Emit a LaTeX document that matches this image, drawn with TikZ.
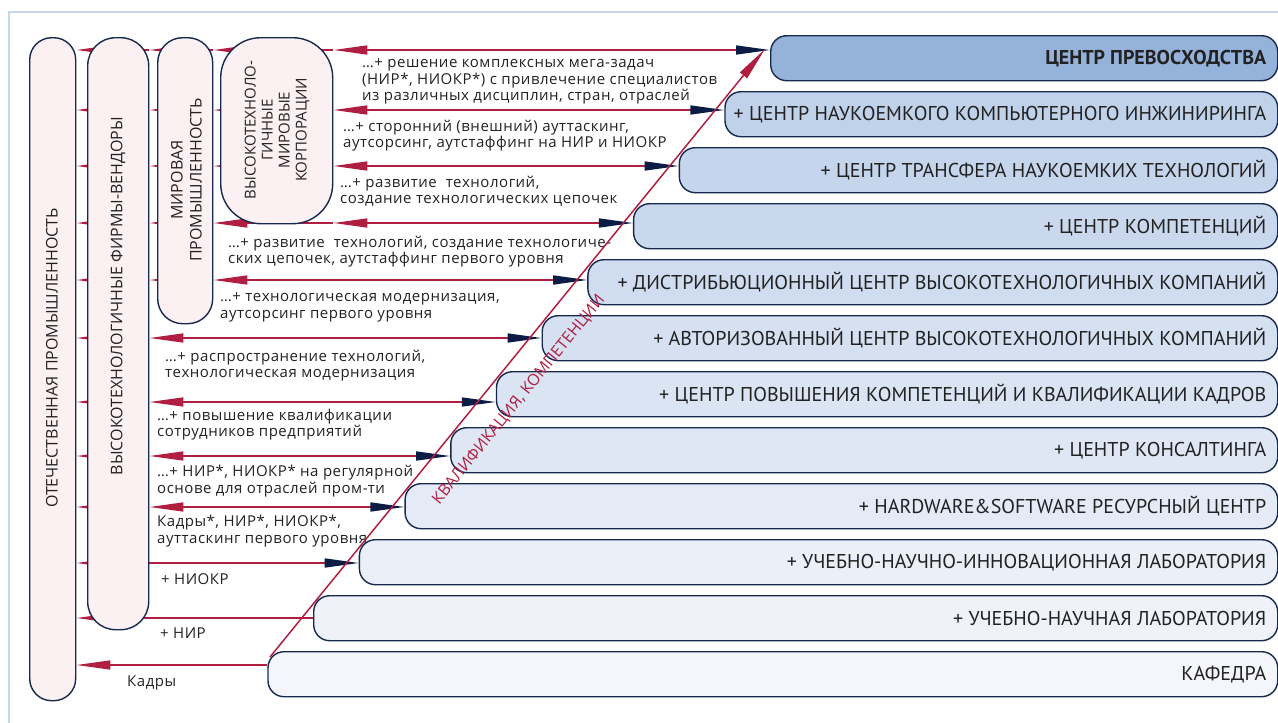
\documentclass[tikz,border=0pt]{standalone}
\usepackage{fontspec}
\setmainfont{Open Sans}
\newfontfamily\boxfont{PT Sans}
\newfontfamily\labfont[LetterSpace=3.5]{Open Sans}
\usetikzlibrary{arrows.meta,calc}
\pgfdeclarelayer{bg}
\pgfsetlayers{bg,main}
\definecolor{crim}{HTML}{B01E42}
\definecolor{navy}{HTML}{17294F}
\definecolor{tipnavy}{HTML}{0B1D45}
\definecolor{pinkfill}{HTML}{FBF0F2}
\definecolor{topfill}{HTML}{95B2DB}
\definecolor{rhi}{HTML}{C0D1EA}
\definecolor{rlo}{HTML}{F4F6FB}
\definecolor{framec}{HTML}{C9D5E8}
\definecolor{txt}{HTML}{222222}
\tikzset{
  Rd/.tip={Triangle[length=34pt,width=9pt,color=crim]},
  Nv/.tip={Triangle[length=34pt,width=9pt,color=tipnavy]},
}
\begin{document}
\begin{tikzpicture}[x=1pt,y=-1pt,
  lbox/.style={draw=navy, line width=1.4pt, fill=pinkfill, inner sep=0pt, anchor=north west},
  rbox/.style={draw=navy, line width=1.4pt, rounded corners=16pt, inner sep=0pt, minimum height=45pt, anchor=north west},
  rtext/.style={font=\boxfont\fontsize{20}{22}\selectfont, text=txt, inner sep=0pt, anchor=east},
  conn/.style={draw=crim, line width=1.5pt},
  lab/.style={font=\labfont\fontsize{15}{16.5}\selectfont, text=txt, inner sep=0pt, anchor=west, align=left},
  vlab/.style={font=\fontsize{16}{19}\selectfont, text=txt, inner sep=0pt, rotate=90, align=center},
]
\useasboundingbox (0,0) rectangle (1278,723);

% left boxes
\node[lbox, rounded corners=22pt, minimum width=46pt, minimum height=663pt] (b1) at (29,37) {};
\node[lbox, rounded corners=28pt, minimum width=61pt, minimum height=592pt] (b2) at (87,37) {};
\node[lbox, rounded corners=25pt, minimum width=55pt, minimum height=286pt] (b3) at (157,37) {};
\node[lbox, rounded corners=40pt, minimum width=112pt, minimum height=186pt] (b4) at (220,37) {};

\node[vlab] (t1) at (52,358) {ОТЕЧЕСТВЕННАЯ ПРОМЫШЛЕННОСТЬ};
\node[vlab] (t2) at (118,296) {ВЫСОКОТЕХНОЛОГИЧНЫЕ ФИРМЫ-ВЕНДОРЫ};
\node[vlab] (t3) at (186.5,180) {МИРОВАЯ\\ПРОМЫШЛЕННОСТЬ};
\node[vlab, font=\fontsize{15}{17}\selectfont] (t4) at (277,130) {ВЫСОКОТЕХНОЛО-\\ГИЧНЫЕ\\МИРОВЫЕ\\КОРПОРАЦИИ};

% right boxes
\foreach \i in {1,...,12} {
  \pgfmathsetmacro\xl{770-(\i-1)*45.7}
  \pgfmathsetmacro\yt{35+(\i-1)*56}
  \pgfmathsetmacro\w{1277-\xl}
  \pgfmathtruncatemacro\p{100-(\i-2)*10}
  \ifnum\i=1 \def\fc{topfill}\else\edef\fc{rhi!\p!rlo}\fi
  \node[rbox, fill=\fc, minimum width=\w pt] (r\i) at (\xl,\yt) {};
}
\node[rtext, font=\boxfont\bfseries\fontsize{20}{22}\selectfont] (r1t) at ([xshift=-12pt]r1.east) {ЦЕНТР ПРЕВОСХОДСТВА};
\node[rtext] (r2t) at ([xshift=-12pt]r2.east) {+ ЦЕНТР НАУКОЕМКОГО КОМПЬЮТЕРНОГО ИНЖИНИРИНГА};
\node[rtext] (r3t) at ([xshift=-12pt]r3.east) {+ ЦЕНТР ТРАНСФЕРА НАУКОЕМКИХ ТЕХНОЛОГИЙ};
\node[rtext] (r4t) at ([xshift=-12pt]r4.east) {+ ЦЕНТР КОМПЕТЕНЦИЙ};
\node[rtext] (r5t) at ([xshift=-12pt]r5.east) {+ ДИСТРИБЬЮЦИОННЫЙ ЦЕНТР ВЫСОКОТЕХНОЛОГИЧНЫХ КОМПАНИЙ};
\node[rtext] (r6t) at ([xshift=-12pt]r6.east) {+ АВТОРИЗОВАННЫЙ ЦЕНТР ВЫСОКОТЕХНОЛОГИЧНЫХ КОМПАНИЙ};
\node[rtext] (r7t) at ([xshift=-12pt]r7.east) {+ ЦЕНТР ПОВЫШЕНИЯ КОМПЕТЕНЦИЙ И КВАЛИФИКАЦИИ КАДРОВ};
\node[rtext] (r8t) at ([xshift=-12pt]r8.east) {+ ЦЕНТР КОНСАЛТИНГА};
\node[rtext] (r9t) at ([xshift=-12pt]r9.east) {+ HARDWARE\&SOFTWARE РЕСУРСНЫЙ ЦЕНТР};
\node[rtext] (r10t) at ([xshift=-12pt]r10.east) {+ УЧЕБНО-НАУЧНО-ИННОВАЦИОННАЯ ЛАБОРАТОРИЯ};
\node[rtext] (r11t) at ([xshift=-12pt]r11.east) {+ УЧЕБНО-НАУЧНАЯ ЛАБОРАТОРИЯ};
\node[rtext] (r12t) at ([xshift=-12pt]r12.east) {КАФЕДРА};

% row levels
\coordinate (yA) at (0,50);
\coordinate (yB) at (0,110);
\coordinate (yC) at (0,166);
\coordinate (yD) at (0,223);
\coordinate (yE) at (0,280);
\coordinate (yF) at (0,338);
\coordinate (yG) at (0,402);
\coordinate (yH) at (0,456);
\coordinate (yI) at (0,507);
\coordinate (yJ) at (0,563);
\coordinate (yK) at (0,618);
\coordinate (yL) at (0,665);

\begin{pgfonlayer}{bg}
  \draw[framec, line width=1.2pt] (9,12) rectangle (1320,760);
  % rows reaching the corporations box
  \foreach \r/\t in {A/1,B/2,C/3,D/4} {
    \draw[conn, Rd-Nv] (b4.east |- y\r) -- (r\t.west |- y\r);
    \draw[conn, -Rd] (b4.east |- y\r) -- (b3.east |- y\r);
    \draw[conn, -Rd] (b3.east |- y\r) -- (b2.east |- y\r);
    \draw[conn, -Rd] (b2.east |- y\r) -- (b1.east |- y\r);
  }
  % row reaching world industry
  \draw[conn, Rd-Nv] (b3.east |- yE) -- (r5.west |- yE);
  \draw[conn, -Rd] (b3.east |- yE) -- (b2.east |- yE);
  \draw[conn, -Rd] (b2.east |- yE) -- (b1.east |- yE);
  % rows reaching vendors
  \foreach \r/\t in {F/6,G/7,H/8,I/9} {
    \draw[conn, Rd-Nv] (b2.east |- y\r) -- (r\t.west |- y\r);
    \draw[conn, -Rd] (b2.east |- y\r) -- (b1.east |- y\r);
  }
  \draw[conn, -Nv] (b2.east |- yJ) -- (r10.west |- yJ);
  \draw[conn, -Rd] (b2.east |- yJ) -- (b1.east |- yJ);
  \draw[conn, Rd-] (b1.east |- yK) -- (r11.west |- yK);
  \draw[conn, Rd-] (b1.east |- yL) -- (r12.west |- yL);
\end{pgfonlayer}

% labels
\node[lab] (lA) at (362,81.7) {…+ решение комплексных мега-задач\\(НИР*, НИОКР*) с привлечение специалистов\\из различных дисциплин, стран, отраслей};
\node[lab] (lB) at (343,135.5) {…+ сторонний (внешний) ауттаскинг,\\аутсорсинг, аутстаффинг на НИР и НИОКР};
\node[lab] (lC) at (340,191) {…+ развитие\ \ технологий,\\создание технологических цепочек};
\node[lab] (lD) at (228,251.5) {…+ развитие\ \ технологий, создание технологиче-\\ских цепочек, аутстаффинг первого уровня};
\node[lab] (lE) at (220,307.5) {…+ технологическая модернизация,\\аутсорсинг первого уровня};
\node[lab] (lF) at (165,365.5) {…+ распространение технологий,\\технологическая модернизация};
\node[lab] (lG) at (157,424.5) {…+ повышение квалификации\\сотрудников предприятий};
\node[lab] (lH) at (157,481) {…+ НИР*, НИОКР* на регулярной\\основе для отраслей пром-ти};
\node[lab] (lI) at (157,531) {Кадры*, НИР*, НИОКР*,\\ауттаскинг первого уровня};
\node[lab] (lJ) at (161,579) {+ НИОКР};
\node[lab] (lK) at (160,633) {+ НИР};
\node[lab] (lL) at (127,683) {Кадры};

% diagonal
\coordinate (dS) at (270,657);
\coordinate (dE) at (765,49);
\draw[conn, -Rd] (dS) -- (dE);
\node[rotate=51, text=crim, font=\fontsize{16}{16}\selectfont, inner sep=0pt] (dtxt) at (519,400) {КВАЛИФИКАЦИЯ, КОМПЕТЕНЦИИ};
\end{tikzpicture}
\end{document}
